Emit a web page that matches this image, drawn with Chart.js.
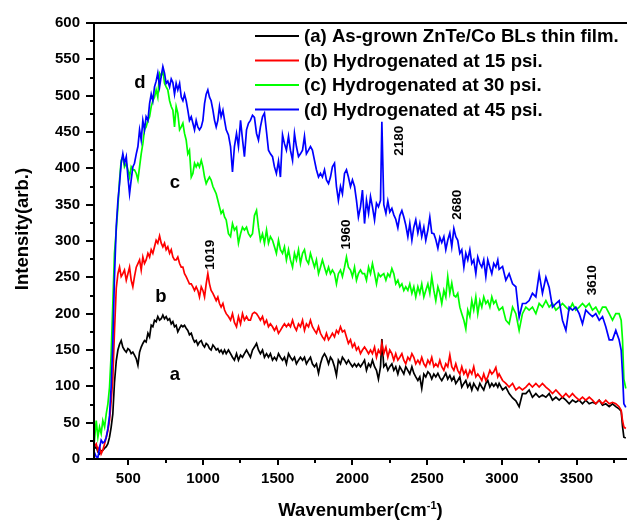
<!DOCTYPE html>
<html>
<head>
<meta charset="utf-8">
<script src="https://cdn.jsdelivr.net/npm/chart.js@4.4.0/dist/chart.umd.min.js"></script>
<style>
  html, body { margin: 0; padding: 0; background: #fff; }
  #wrap { width: 627px; height: 524px; }
</style>
</head>
<body>
<div id="wrap"><canvas id="ramanChart" width="627" height="524"></canvas></div>
<script>
// wavenumber grid (cm-1)
const wavenumber = [
  271, 285, 296, 307, 318, 329, 341, 352, 363, 374, 385, 396, 407, 419, 430, 441, 452, 463, 474, 486,
  497, 508, 519, 530, 541, 553, 564, 575, 586, 597, 608, 619, 631, 642, 653, 664, 675, 686, 697, 709,
  720, 731, 742, 753, 764, 776, 787, 798, 809, 820, 831, 843, 854, 865, 876, 887, 898, 909, 921, 932,
  943, 954, 965, 976, 988, 999, 1010, 1021, 1032, 1043, 1054, 1066, 1077, 1088, 1099, 1110, 1121, 1133, 1144, 1155,
  1170, 1184, 1197, 1210, 1224, 1237, 1251, 1264, 1277, 1291, 1304, 1317, 1331, 1344, 1358, 1371, 1384, 1398, 1411, 1425,
  1438, 1451, 1465, 1478, 1491, 1505, 1518, 1532, 1545, 1558, 1572, 1585, 1599, 1612, 1625, 1639, 1652, 1666, 1679, 1692,
  1706, 1719, 1732, 1746, 1759, 1773, 1786, 1799, 1813, 1826, 1840, 1853, 1866, 1880, 1893, 1906, 1920, 1933, 1947, 1960,
  1973, 1987, 2000, 2014, 2027, 2040, 2054, 2067,
  2081, 2094, 2108, 2121, 2134, 2148, 2161, 2174, 2188, 2197, 2210, 2224, 2237, 2250, 2264, 2277, 2290, 2304, 2317, 2331,
  2344, 2357, 2371, 2384, 2398, 2411, 2424, 2438, 2451, 2464, 2478, 2491, 2505, 2518, 2531, 2545, 2558, 2572, 2585, 2598,
  2612, 2625, 2638, 2652, 2665, 2679, 2692, 2705, 2719, 2732, 2746, 2759, 2772, 2786, 2799, 2812, 2826, 2839, 2853, 2866,
  2879, 2893, 2906, 2920, 2933, 2946, 2960, 2973,
  2982, 3005, 3027, 3049, 3072, 3094, 3116, 3138, 3161, 3183, 3205, 3228, 3250, 3272, 3295, 3317, 3339, 3362, 3384, 3406,
  3429, 3451, 3473, 3495, 3518, 3540, 3562, 3585, 3607, 3629, 3652, 3674, 3696, 3719, 3741, 3763, 3785, 3799, 3808, 3817, 3830
];

// (a) as-grown
const intensityA = [
  14, 17, 10, 7, 11, 12, 15, 17, 21, 30, 44, 62, 105, 135, 150, 158, 163, 154, 150, 147,
  152, 150, 145, 147, 143, 138, 129, 147, 154, 159, 163, 161, 173, 168, 184, 182, 191, 189, 196, 191,
  193, 198, 193, 196, 191, 193, 186, 189, 182, 184, 175, 180, 184, 182, 184, 180, 177, 171, 173, 166,
  161, 163, 157, 161, 163, 157, 154, 159, 157, 152, 150, 157, 154, 150, 152, 147, 150, 145, 150, 145,
  150, 145, 140, 136, 145, 136, 143, 140, 145, 150, 145, 140, 150, 154, 159, 150, 145, 150, 140, 145,
  140, 145, 136, 140, 136, 145, 140, 136, 140, 131, 145, 140, 136, 140, 131, 136, 140, 136, 140, 131,
  136, 140, 131, 127, 131, 118, 131, 140, 145, 140, 131, 140, 136, 127, 115, 136, 131, 140, 136, 131,
  136, 131, 127, 131, 127, 131, 127, 131,
  136, 122, 131, 127, 136, 127, 122, 110, 127, 165, 127, 131, 122, 127, 131, 122, 127, 117, 127, 122,
  117, 127, 122, 117, 127, 118, 113, 108, 113, 97, 117, 113, 120, 117, 110, 117, 113, 118, 112, 108,
  113, 118, 110, 115, 108, 113, 104, 108, 113, 99, 104, 108, 99, 104, 95, 104, 99, 95, 104, 99,
  95, 104, 108, 99, 104, 100, 104, 99,
  104, 95, 99, 90, 84, 80, 72, 90, 90, 95, 85, 90, 85, 88, 85, 90, 81, 85, 81, 85,
  81, 76, 81, 78, 81, 76, 81, 76, 78, 76, 81, 74, 76, 72, 76, 72, 69, 66, 45, 30, 29
];

// (b) 15 psi
const intensityB = [
  17, 21, 12, 17, 7, 12, 21, 30, 39, 53, 80, 110, 175, 235, 255, 264, 251, 255, 260, 246,
  255, 264, 246, 237, 251, 264, 269, 274, 260, 278, 269, 274, 283, 278, 288, 283, 292, 301, 297, 307,
  297, 292, 297, 288, 292, 283, 288, 278, 274, 274, 278, 269, 264, 264, 255, 251, 246, 241, 241, 237,
  232, 237, 232, 223, 237, 232, 223, 241, 255, 241, 232, 228, 223, 218, 223, 214, 209, 214, 205, 200,
  196, 191, 200, 188, 182, 196, 186, 200, 191, 196, 191, 191, 200, 202, 200, 196, 191, 196, 186, 191,
  182, 186, 182, 177, 182, 173, 177, 182, 186, 182, 186, 182, 191, 182, 177, 186, 182, 191, 177, 186,
  182, 191, 182, 177, 173, 182, 173, 168, 164, 173, 164, 168, 173, 168, 177, 173, 182, 175, 177, 168,
  159, 164, 154, 159, 150, 154, 145, 150,
  154, 150, 145, 150, 145, 154, 140, 150, 145, 159, 145, 154, 140, 150, 145, 136, 145, 136, 140, 145,
  136, 131, 140, 136, 145, 140, 131, 136, 131, 140, 131, 127, 136, 131, 140, 127, 131, 127, 136, 127,
  122, 131, 127, 143, 127, 122, 131, 122, 117, 127, 117, 122, 113, 122, 117, 127, 113, 117, 113, 108,
  117, 108, 113, 122, 117, 120, 126, 113,
  117, 108, 104, 99, 104, 95, 99, 95, 99, 104, 99, 104, 99, 104, 99, 95, 90, 95, 90, 85,
  90, 85, 90, 85, 81, 85, 81, 85, 81, 76, 81, 76, 81, 76, 78, 76, 72, 67, 53, 44, 42
];

// (c) 30 psi
const intensityC = [
  21, 53, 30, 44, 35, 53, 44, 62, 76, 99, 145, 214, 283, 315, 347, 384, 411, 416, 402, 407,
  398, 388, 402, 398, 398, 393, 384, 402, 420, 434, 453, 457, 466, 471, 485, 493, 498, 508, 498, 531,
  527, 535, 517, 512, 508, 493, 485, 480, 457, 485, 476, 453, 457, 462, 448, 439, 420, 425, 388, 393,
  407, 402, 407, 402, 411, 402, 388, 379, 384, 388, 384, 375, 370, 365, 356, 347, 338, 342, 333, 329,
  310, 306, 324, 315, 319, 297, 310, 319, 315, 319, 310, 306, 310, 335, 342, 319, 301, 310, 297, 315,
  297, 306, 301, 292, 283, 301, 288, 283, 292, 274, 288, 274, 264, 283, 274, 288, 269, 283, 288, 274,
  269, 283, 274, 264, 274, 255, 264, 274, 264, 255, 264, 255, 260, 255, 241, 255, 260, 251, 264, 278,
  264, 260, 251, 264, 246, 255, 260, 255,
  255, 246, 264, 255, 269, 255, 241, 255, 251, 253, 255, 246, 255, 251, 262, 255, 241, 246, 237, 241,
  232, 237, 232, 241, 228, 237, 223, 237, 228, 241, 223, 232, 241, 228, 251, 232, 218, 237, 228, 214,
  232, 223, 251, 228, 242, 225, 223, 228, 209, 200, 191, 179, 205, 196, 218, 205, 223, 200, 218, 209,
  223, 214, 218, 209, 223, 214, 218, 209,
  205, 209, 191, 186, 209, 200, 177, 200, 209, 205, 209, 200, 214, 209, 218, 209, 214, 205, 209, 214,
  209, 205, 214, 205, 209, 214, 209, 214, 205, 209, 200, 209, 209, 200, 191, 200, 200, 191, 164, 110, 97
];

// (d) 45 psi
const intensityD = [
  10, 3, 2, 15, 26, 22, 24, 30, 42, 60, 100, 160, 250, 320, 355, 379, 407, 420, 407, 416,
  388, 365, 384, 402, 407, 420, 430, 453, 439, 466, 453, 471, 466, 489, 502, 493, 512, 520, 531, 512,
  527, 540, 531, 517, 520, 512, 523, 518, 502, 517, 508, 517, 498, 493, 502, 493, 480, 466, 471, 462,
  453, 466, 457, 453, 457, 466, 489, 502, 508, 498, 493, 480, 466, 457, 466, 485, 471, 480, 466, 453,
  446, 430, 395, 430, 448, 430, 466, 440, 416, 453, 462, 466, 473, 470, 448, 439, 457, 471, 476, 450,
  425, 420, 416, 402, 393, 410, 388, 446, 434, 425, 444, 425, 411, 448, 430, 416, 420, 425, 444, 420,
  425, 430, 425, 411, 398, 388, 393, 388, 398, 384, 379, 388, 402, 407, 375, 356, 375, 365, 393, 398,
  388, 375, 384, 375, 356, 333, 347, 370,
  324, 356, 338, 361, 347, 329, 352, 347, 356, 464, 350, 338, 355, 340, 345, 336, 330, 318, 335, 342,
  333, 322, 306, 324, 301, 319, 329, 311, 324, 306, 319, 301, 315, 333, 311, 310, 302, 290, 305, 298,
  306, 288, 301, 311, 292, 317, 306, 301, 283, 288, 264, 283, 274, 288, 269, 274, 255, 278, 269, 264,
  274, 251, 274, 264, 255, 269, 264, 274,
  261, 265, 246, 255, 241, 237, 195, 214, 214, 218, 228, 223, 255, 228, 250, 236, 209, 214, 218, 191,
  177, 209, 205, 209, 200, 186, 205, 200, 196, 200, 191, 196, 182, 164, 164, 177, 164, 150, 117, 76, 71
];

const seriesLabels = [
  '(a) As-grown ZnTe/Co BLs thin film.',
  '(b) Hydrogenated at 15 psi.',
  '(c) Hydrogenated at 30 psi.',
  '(d) Hydrogenated at 45 psi.'
];
const seriesColors = ['#000000', '#ff0000', '#00ff00', '#0000ff'];

const xTickValues = [500, 1000, 1500, 2000, 2500, 3000, 3500];
const xMinorValues = [750, 1250, 1750, 2250, 2750, 3250, 3750];
const yTickValues = [0, 50, 100, 150, 200, 250, 300, 350, 400, 450, 500, 550, 600];
const yMinorValues = [25, 75, 125, 175, 225, 275, 325, 375, 425, 475, 525, 575];

// curve letters and peak labels (data coordinates)
const curveTags = [
  { text: 'd', x: 578, y: 510 },
  { text: 'c', x: 812, y: 373 },
  { text: 'b', x: 718, y: 216 },
  { text: 'a', x: 812, y: 109 }
];
const peakTags = [
  { text: '1019', x: 1046, y: 281 },
  { text: '1960', x: 1957, y: 309 },
  { text: '2180', x: 2311, y: 438 },
  { text: '2680', x: 2703, y: 350 },
  { text: '3610', x: 3603, y: 246 }
];

const FONT = '"Liberation Sans", Arial, Helvetica, sans-serif';

function toPoints(vals) {
  return wavenumber.map((w, i) => ({ x: w, y: vals[i] }));
}

const allSeries = [intensityA, intensityB, intensityC, intensityD];
const datasets = allSeries.map((vals, i) => ({
  label: seriesLabels[i],
  data: toPoints(vals),
  borderColor: seriesColors[i],
  backgroundColor: seriesColors[i],
  borderWidth: 1.7,
  pointRadius: 0,
  tension: 0,
  order: 3 - i  // (d) on top
}));

//axis frame + major/minor ticks
const frameTicks = {
  id: 'frameTicks',
  afterDatasetsDraw(chart) {
    const { ctx, chartArea: a, scales: { x, y } } = chart;
    ctx.save();
    ctx.strokeStyle = '#000';
    ctx.lineWidth = 2;
    ctx.beginPath();
    ctx.moveTo(a.left - 1, a.top); ctx.lineTo(a.right, a.top);
    ctx.moveTo(a.left, a.top); ctx.lineTo(a.left, a.bottom + 1);
    ctx.moveTo(a.left - 1, a.bottom); ctx.lineTo(a.right, a.bottom);
    ctx.stroke();

    ctx.beginPath();
    yTickValues.forEach(v => {
      const p = Math.round(y.getPixelForValue(v));
      ctx.moveTo(a.left - 8, p); ctx.lineTo(a.left, p);
    });
    yMinorValues.forEach(v => {
      const p = Math.round(y.getPixelForValue(v));
      ctx.moveTo(a.left - 4, p); ctx.lineTo(a.left, p);
    });
    xTickValues.forEach(v => {
      const p = Math.round(x.getPixelForValue(v));
      ctx.moveTo(p, a.bottom); ctx.lineTo(p, a.bottom + 6);
    });
    xMinorValues.forEach(v => {
      const p = Math.round(x.getPixelForValue(v));
      ctx.moveTo(p, a.bottom); ctx.lineTo(p, a.bottom + 4);
    });
    ctx.stroke();
    ctx.restore();
  }
};

// legend, axis titles, annotations
const textLayer = {
  id: 'textLayer',
  afterDraw(chart) {
    const { ctx, chartArea: a, scales: { x, y } } = chart;
    ctx.save();
    ctx.fillStyle = '#000';

    // legend in the upper right
    ctx.font = 'bold 18.6px ' + FONT;
    ctx.textAlign = 'left';
    ctx.textBaseline = 'middle';
    seriesLabels.forEach((lab, i) => {
      const ly = 36 + i * 24.5;
      ctx.strokeStyle = seriesColors[i];
      ctx.lineWidth = 2;
      ctx.beginPath();
      ctx.moveTo(255, ly); ctx.lineTo(299, ly);
      ctx.stroke();
      ctx.fillText(lab, 304, ly + 1);
    });

    // curve letters
    ctx.font = 'bold 18.5px ' + FONT;
    ctx.textAlign = 'center';
    ctx.textBaseline = 'alphabetic';
    curveTags.forEach(t => ctx.fillText(t.text, x.getPixelForValue(t.x), y.getPixelForValue(t.y)));

    // rotated peak labels
    ctx.font = 'bold 13.5px ' + FONT;
    ctx.textBaseline = 'middle';
    peakTags.forEach(t => {
      ctx.save();
      ctx.translate(x.getPixelForValue(t.x), y.getPixelForValue(t.y));
      ctx.rotate(-Math.PI / 2);
      ctx.fillText(t.text, 0, 0);
      ctx.restore();
    });

    // y title
    ctx.font = 'bold 18.5px ' + FONT;
    ctx.save();
    ctx.translate(23, 229);
    ctx.rotate(-Math.PI / 2);
    ctx.fillText('Intensity(arb.)', 0, 0);
    ctx.restore();

    // x title with superscript
    const main = 'Wavenumber(cm', sup = '-1', close = ')';
    const bigFont = 'bold 18.5px ' + FONT, supFont = 'bold 11px ' + FONT;
    ctx.font = bigFont; const w1 = ctx.measureText(main).width; const w3 = ctx.measureText(close).width;
    ctx.font = supFont; const w2 = ctx.measureText(sup).width;
    const cx = (a.left + a.right) / 2;
    let sx = cx - (w1 + w2 + w3) / 2;
    const base = 516;
    ctx.textAlign = 'left';
    ctx.textBaseline = 'alphabetic';
    ctx.font = bigFont; ctx.fillText(main, sx, base); sx += w1;
    ctx.font = supFont; ctx.fillText(sup, sx, base - 7); sx += w2;
    ctx.font = bigFont; ctx.fillText(close, sx, base);
    ctx.restore();
  }
};

const config = {
  type: 'line',
  data: { datasets: datasets },
  options: {
    responsive: false,
    animation: false,
    devicePixelRatio: 1,
    layout: { padding: { top: 23, right: 0, left: 0, bottom: 0 } },
    plugins: {
      legend: { display: false },
      tooltip: { enabled: false }
    },
    scales: {
      x: {
        type: 'linear',
        min: 270,
        max: 3838,
        afterBuildTicks: s => { s.ticks = xTickValues.map(v => ({ value: v })); },
        afterFit: s => { s.height = 65; },
        grid: { display: false, drawTicks: false },
        border: { display: false },
        ticks: {
          color: '#000',
          padding: 11,
          maxRotation: 0,
          autoSkip: false,
          callback: v => String(v),
          font: { family: FONT, size: 15, weight: 'bold' }
        }
      },
      y: {
        min: 0,
        max: 600,
        afterBuildTicks: s => { s.ticks = yTickValues.map(v => ({ value: v })); },
        afterFit: s => { s.width = 94; },
        grid: { display: false, drawTicks: false },
        border: { display: false },
        ticks: {
          color: '#000',
          padding: 14,
          autoSkip: false,
          callback: v => String(v),
          font: { family: FONT, size: 15, weight: 'bold' }
        }
      }
    }
  },
  plugins: [frameTicks, textLayer]
};

const ramanChart = new Chart(document.getElementById('ramanChart'), config);
</script>
</body>
</html>
